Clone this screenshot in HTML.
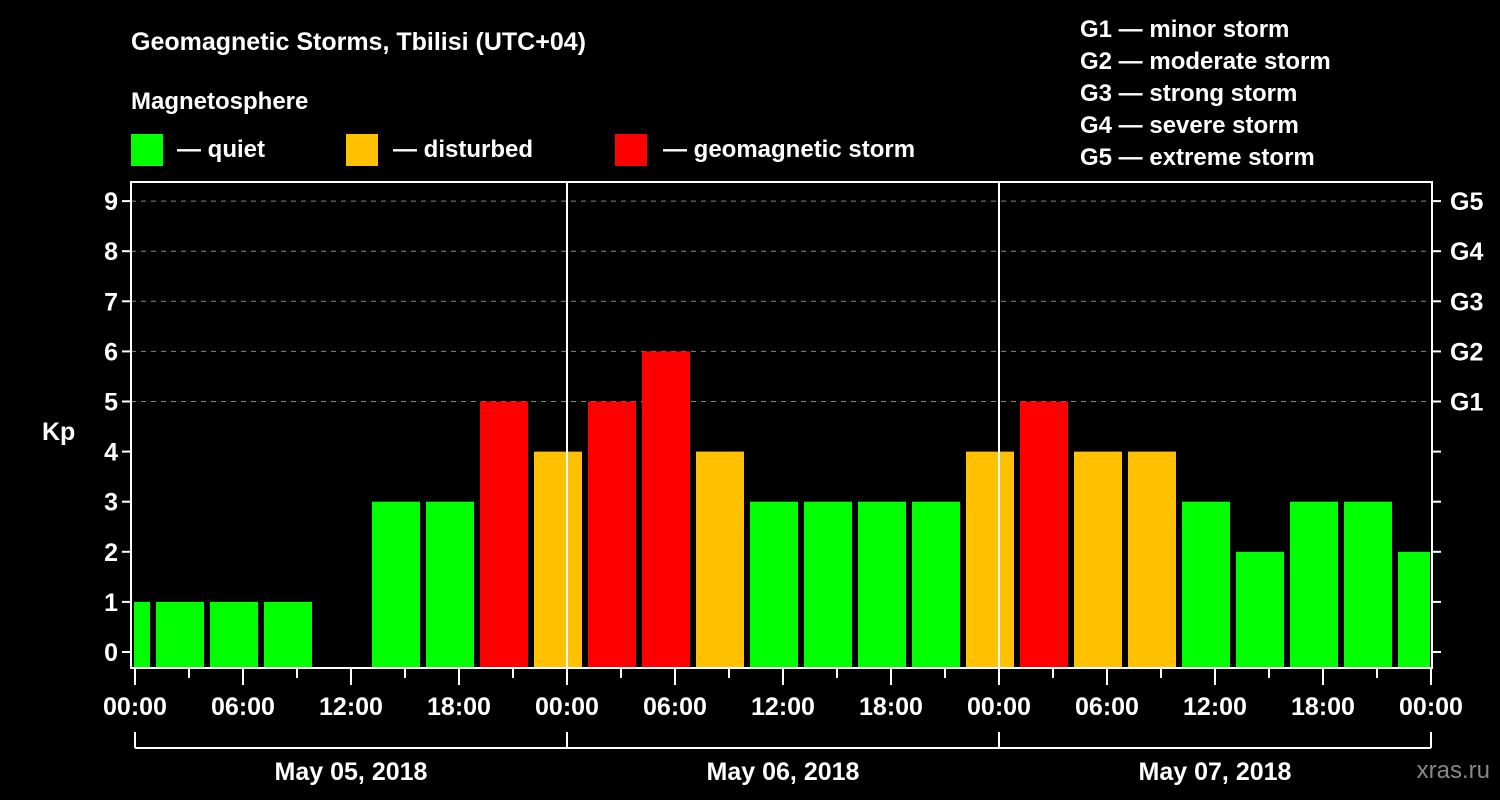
<!DOCTYPE html>
<html><head><meta charset="utf-8"><style>
body{margin:0;background:#000;}
svg{display:block;font-family:"Liberation Sans",sans-serif;font-weight:bold;}
</style></head><body>
<svg id="chart" width="1500" height="800">
<rect width="1500" height="800" fill="#000"/>
<text x="131" y="50" fill="#fff" font-size="25">Geomagnetic Storms, Tbilisi (UTC+04)</text>
<text x="131" y="109" fill="#fff" font-size="24">Magnetosphere</text>
<g><rect x="131" y="134" width="32" height="32" fill="#00ff00"/><text x="177" y="157" fill="#fff" font-size="24">— quiet</text></g>
<g><rect x="346" y="134" width="32" height="32" fill="#ffc000"/><text x="393" y="157" fill="#fff" font-size="24">— disturbed</text></g>
<g><rect x="615" y="134" width="32" height="32" fill="#ff0000"/><text x="663" y="157" fill="#fff" font-size="24">— geomagnetic storm</text></g>
<g fill="#fff" font-size="24">
<text x="1080" y="37">G1 — minor storm</text>
<text x="1080" y="69">G2 — moderate storm</text>
<text x="1080" y="101">G3 — strong storm</text>
<text x="1080" y="133">G4 — severe storm</text>
<text x="1080" y="165">G5 — extreme storm</text>
</g>
<text x="42" y="440" fill="#fff" font-size="25">Kp</text>
<text x="1490" y="778" fill="#888" font-size="24" text-anchor="end" font-weight="normal">xras.ru</text>
<g id="plot"></g>
</svg>
<script>
const kpValues=[1,1,1,1,null,3,3,5,4,5,6,4,3,3,3,3,4,5,4,4,3,2,3,3,2];
const yTicks=[0,1,2,3,4,5,6,7,8,9];
const gLabels=["G1","G2","G3","G4","G5"];
const hourLabels=["00:00","06:00","12:00","18:00","00:00","06:00","12:00","18:00","00:00","06:00","12:00","18:00","00:00"];
const dayLabels=["May 05, 2018","May 06, 2018","May 07, 2018"];
const X0=135,PXH=18,L=131,R=1432,T=182,B=668;
const x=h=>X0+h*PXH;
const y=v=>652-v*50.1;
const NS="http://www.w3.org/2000/svg";
const g=document.getElementById('plot');
function mk(t,a,txt){const e=document.createElementNS(NS,t);for(const k in a)e.setAttribute(k,a[k]);if(txt!=null)e.textContent=txt;g.appendChild(e);return e;}
// grid
for(let i=0;i<gLabels.length;i++){
 const v=5+i;
 const l=mk('line',{x1:L,x2:R,y1:y(v),y2:y(v),stroke:'#888','stroke-dasharray':'5,5','stroke-width':1});
 
 
 const t=mk('text',{x:1450,y:y(v)+9,fill:'#fff','font-size':25},gLabels[i]);
 
 
}
// bars
kpValues.forEach((v,i)=>{
 if(v==null)return;
 let s=-2+i*3,e=s+3;
 let x1=Math.max(x(s)+3,L+3),x2=Math.min(x(e)-3,R-2);
 const c=v>=5?'#ff0000':(v>=4?'#ffc000':'#00ff00');
 const r=mk('rect',{x:x1,y:y(v),width:x2-x1,height:B-y(v),fill:c});
 
 
});
// day separators
[24,48].forEach(h=>{
 const l=mk('line',{x1:x(h),x2:x(h),y1:T,y2:B,stroke:'#fff','stroke-width':2});
 
 
});
// frame
const f=mk('rect',{x:L,y:T,width:R-L,height:B-T,fill:'none',stroke:'#fff','stroke-width':2});


// y ticks
yTicks.forEach(v=>{
 mk('line',{x1:L-9,x2:L,y1:y(v),y2:y(v),stroke:'#fff','stroke-width':2});
 mk('line',{x1:R,x2:R+9,y1:y(v),y2:y(v),stroke:'#fff','stroke-width':2});
 const t=mk('text',{x:L-13,y:y(v)+9,fill:'#fff','font-size':25,'text-anchor':'end'},v);
 
 
});
// x ticks
for(let h=0;h<=72;h+=3){
 mk('line',{x1:x(h),x2:x(h),y1:B,y2:B+(h%6==0?17:10),stroke:'#fff','stroke-width':2});
}
hourLabels.forEach((s,i)=>{
 const t=mk('text',{x:x(i*6),y:715,fill:'#fff','font-size':25,'text-anchor':'middle'},s);
 
 
});
// day bracket
mk('line',{x1:x(0),x2:x(72),y1:748,y2:748,stroke:'#fff','stroke-width':2});
[0,24,48,72].forEach(h=>mk('line',{x1:x(h),x2:x(h),y1:732,y2:748,stroke:'#fff','stroke-width':2}));
dayLabels.forEach((s,i)=>{
 const t=mk('text',{x:x(i*24+12),y:780,fill:'#fff','font-size':25,'text-anchor':'middle'},s);
 
 
});
</script>
</body></html>
